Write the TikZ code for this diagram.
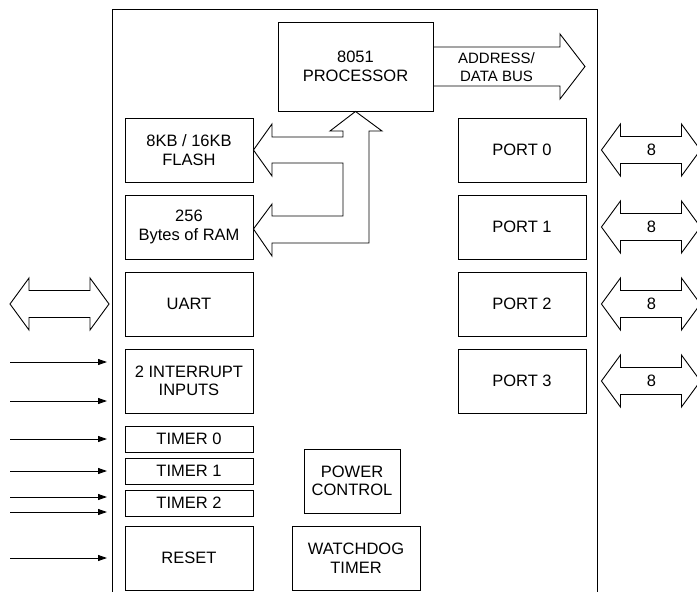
\documentclass[tikz,border=0pt]{standalone}
\usepackage{fontspec}
\setmainfont{Liberation Sans}
\usetikzlibrary{arrows.meta}
\begin{document}
\begin{tikzpicture}[x=1pt,y=-1pt,
  blk/.style={draw,line width=0.9pt,rectangle,inner sep=0pt,align=center,
    font=\fontsize{16.5}{18.5}\selectfont},
  bus/.style={draw,line width=0.9pt,line join=miter},
  sig/.style={draw,line width=0.9pt,-{Triangle[length=9pt,width=6pt]}},
  lbl/.style={inner sep=0pt,align=center,font=\fontsize{16.5}{18.5}\selectfont}]
\useasboundingbox (0,0) rectangle (697,592);
% outer chip outline
\draw[line width=0.9pt] (112.5,600) -- (112.5,9.5) -- (597.5,9.5) -- (597.5,600);
% blocks
\node[blk,minimum width=155pt,minimum height=89pt] (proc) at (355.5,66.5) {8051\\PROCESSOR};
\node[blk,minimum width=128pt,minimum height=64pt] (flash) at (189,150) {8KB / 16KB\\FLASH};
\node[blk,minimum width=128pt,minimum height=64pt] (ram) at (189,227) {256\\Bytes of RAM};
\node[blk,minimum width=128pt,minimum height=64pt] (uart) at (189,304) {UART};
\node[blk,minimum width=128pt,minimum height=64pt] (intr) at (189,381) {2 INTERRUPT\\INPUTS};
\node[blk,minimum width=128pt,minimum height=26pt] (t0) at (189,439) {TIMER 0};
\node[blk,minimum width=128pt,minimum height=26pt] (t1) at (189,471) {TIMER 1};
\node[blk,minimum width=128pt,minimum height=26pt] (t2) at (189,503) {TIMER 2};
\node[blk,minimum width=128pt,minimum height=64pt] (reset) at (189,558) {RESET};
\node[blk,minimum width=128pt,minimum height=64pt] (p0) at (522,150) {PORT 0};
\node[blk,minimum width=128pt,minimum height=64pt] (p1) at (522,227) {PORT 1};
\node[blk,minimum width=128pt,minimum height=64pt] (p2) at (522,304) {PORT 2};
\node[blk,minimum width=128pt,minimum height=64pt] (p3) at (522,381) {PORT 3};
\node[blk,minimum width=96pt,minimum height=64pt] (pwr) at (352,481) {POWER\\CONTROL};
\node[blk,minimum width=128pt,minimum height=64pt] (wdt) at (356,558) {WATCHDOG\\TIMER};
% address/data bus arrow
\draw[bus] (proc.east |- 0,47) -- (560,47) -- (560,34) -- (585,66.5) -- (560,99) -- (560,86) -- (proc.east |- 0,86);
\node[lbl,font=\fontsize{15}{18.5}\selectfont] (addr) at (496.5,67) {ADDRESS/\\DATA BUS};
% internal memory bus
\draw[bus] (proc.south) -- (382,131) -- (369,131) -- (369,243) -- (272,243) -- (272,256)
  -- (ram.east |- 0,229) -- (272,204) -- (272,216) -- (343,216) -- (343,163) -- (272,163)
  -- (272,176) -- (flash.east) -- (272,124) -- (272,137) -- (343,137) -- (343,131) -- (330,131) -- cycle;
% port buses
\foreach \p in {p0,p1,p2,p3}{
  \draw[bus] ([xshift=15pt]\p.east) -- ++(19,-26) -- ++(0,12.5) -- ++(61,0) -- ++(0,-12.5)
    -- ++(19,26) -- ++(-19,26) -- ++(0,-12.5) -- ++(-61,0) -- ++(0,12.5) -- cycle;
  \node[lbl] at ([xshift=65pt]\p.east) {8};
}
% UART bus
\draw[bus] (10,304) -- (29,278) -- (29,290.5) -- (90,290.5) -- (90,278) -- (109,304)
  -- (90,330) -- (90,317.5) -- (29,317.5) -- (29,330) -- cycle;
% input signals
\foreach \yy/\nm in {362/a,401/b,439/c,471/d,497/e,512/f,558/g}{
  \coordinate (s\nm) at (10,\yy);
  \coordinate (e\nm) at (107,\yy);
  \draw[sig] (s\nm) -- (e\nm);
}
\end{tikzpicture}
\end{document}
